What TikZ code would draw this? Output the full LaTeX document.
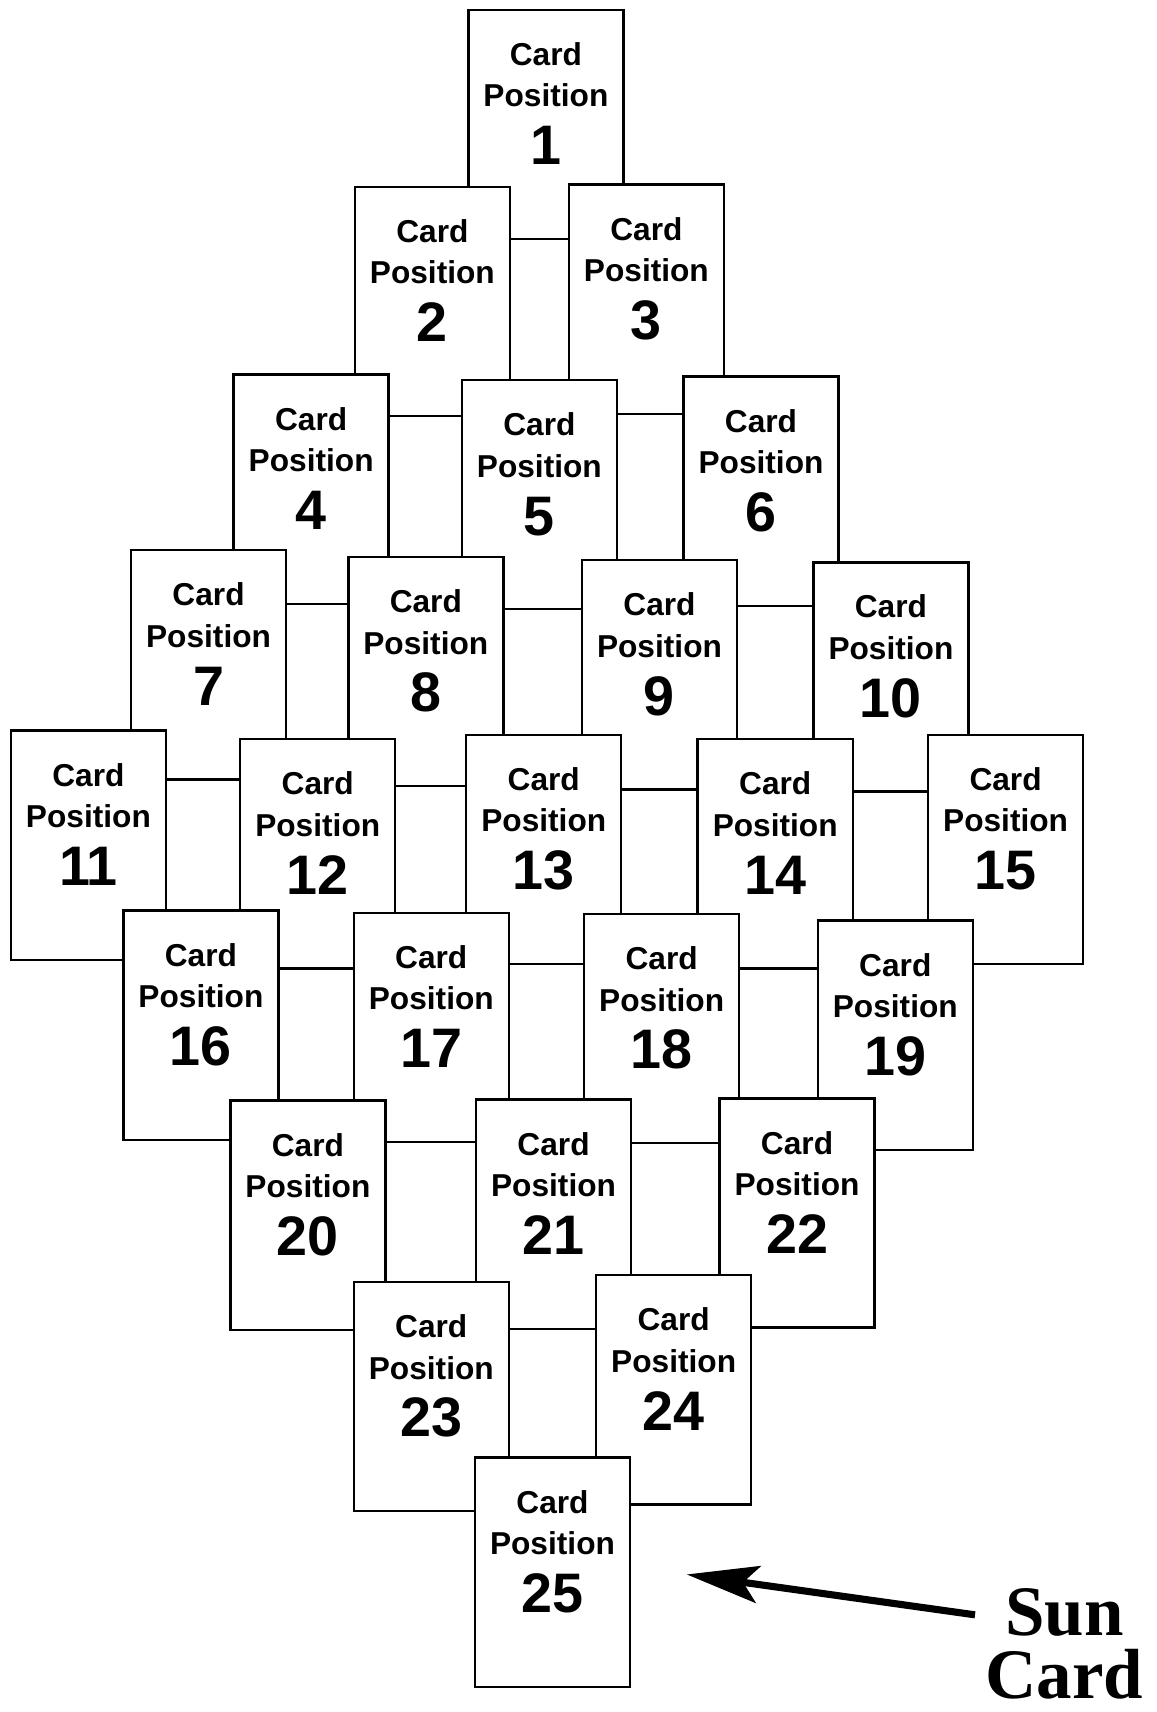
\documentclass[tikz,border=0pt]{standalone}
\usepackage{fontspec}
\setmainfont{Liberation Sans}
\newfontfamily\sunserif{Liberation Serif}
\usetikzlibrary{arrows.meta}
\newcommand\cardat[3]{%
  \node[cardbox] (c#1) at (#2,#3) {};
  \node[cardlbl] (c#1a) at ([yshift=-51pt]c#1.north) {Card};
  \node[cardlbl] (c#1b) at ([yshift=-89pt]c#1.north) {Position};
  \node[cardnum] (c#1c) at ([yshift=-142pt]c#1.north) {#1};
}
\begin{document}
\begin{tikzpicture}[x=1pt,y=-1pt,
  cardbox/.style={draw=black, fill=white, line width=2.2pt, minimum width=142pt, minimum height=210pt, inner sep=0pt, outer sep=0pt, anchor=north west},
  cardlbl/.style={font=\fontsize{29}{34}\selectfont\bfseries, inner sep=0pt, anchor=base},
  cardnum/.style={font=\fontsize{51}{60}\selectfont\bfseries, inner sep=0pt, anchor=base},
  suntext/.style={font=\fontsize{65}{57}\selectfont\sunserif\bfseries, inner sep=0pt, align=center, anchor=south},
  sunarrow/.style={line width=6.5pt, -{Stealth[length=66pt,width=34pt,inset=14pt]}}]
\fill[white] (0,0) rectangle (1059,1568);
\useasboundingbox (0,0) rectangle (1059,1568);
\cardat{1}{429}{9}
\cardat{2}{325}{171}
\cardat{3}{521}{169}
\cardat{4}{214}{343}
\cardat{5}{423}{348}
\cardat{6}{626}{345}
\cardat{7}{120}{504}
\cardat{8}{319}{510}
\cardat{9}{533}{513}
\cardat{10}{745}{515}
\cardat{11}{10}{669}
\cardat{12}{220}{677}
\cardat{13}{427}{673}
\cardat{14}{639}{677}
\cardat{15}{850}{673}
\cardat{16}{113}{834}
\cardat{17}{324}{836}
\cardat{18}{535}{837}
\cardat{19}{749}{843}
\cardat{20}{211}{1008}
\cardat{21}{436}{1007}
\cardat{22}{659}{1006}
\cardat{23}{324}{1174}
\cardat{24}{546}{1168}
\cardat{25}{435}{1335}
\node[suntext] (sun) at (975,1556) {Sun\\Card};
\coordinate (arrtail) at (893,1479);
\coordinate (arrtip) at (629,1442);
\draw[sunarrow] (arrtail) -- (arrtip);
\end{tikzpicture}
\end{document}
